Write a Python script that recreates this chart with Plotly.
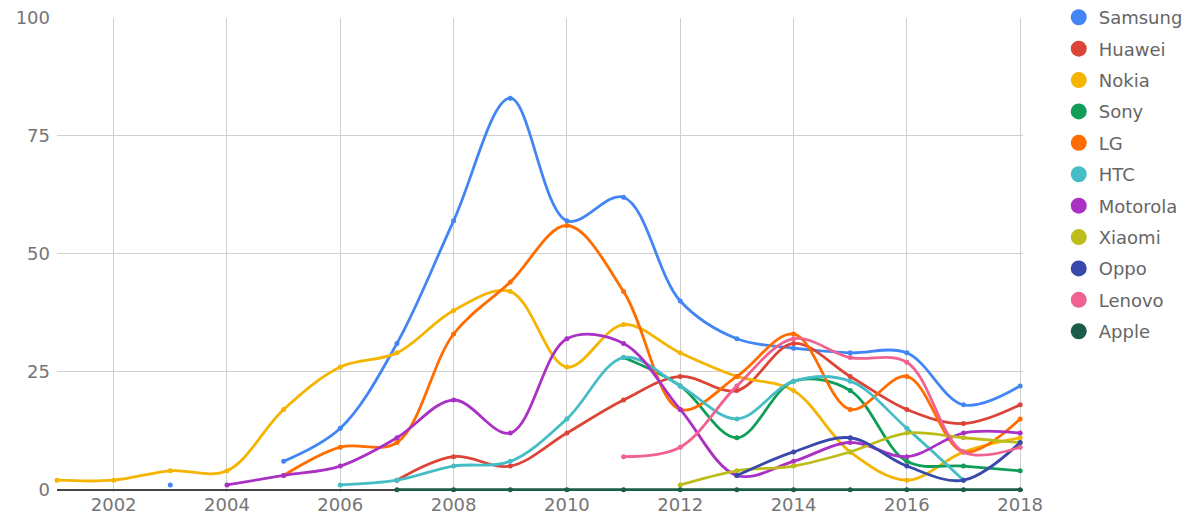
import plotly.graph_objects as go

years = list(range(2001, 2019))

samsung = [None, None, 1, None, 6, 13, 31, 57, 83, 57, 62, 40, 32, 30, 29, 29, 18, 22]
huawei = [None] * 6 + [2, 7, 5, 12, 19, 24, 21, 31, 24, 17, 14, 18]
nokia = [2, 2, 4, 4, 17, 26, 29, 38, 42, 26, 35, 29, 24, 21, 8, 2, 8, 11]
sony = [None] * 10 + [28, 22, 11, 23, 21, 6, 5, 4]
lg = [None] * 4 + [3, 9, 10, 33, 44, 56, 42, 17, 24, 33, 17, 24, 8, 15]
htc = [None] * 5 + [1, 2, 5, 6, 15, 28, 22, 15, 23, 23, 13, 2, None]
motorola = [None] * 3 + [1, 3, 5, 11, 19, 12, 32, 31, 17, 3, 6, 10, 7, 12, 12]
xiaomi = [None] * 11 + [1, 4, 5, 8, 12, 11, 10]
oppo = [None] * 12 + [3, 8, 11, 5, 2, 10]
lenovo = [None] * 10 + [7, 9, 22, 32, 28, 27, 8, 9]
apple = [None] * 6 + [0] * 12

series = [
    ("Samsung", samsung, "#4285F4"),
    ("Huawei", huawei, "#DB4437"),
    ("Nokia", nokia, "#F4B400"),
    ("Sony", sony, "#0F9D58"),
    ("LG", lg, "#FF6D00"),
    ("HTC", htc, "#46BDC6"),
    ("Motorola", motorola, "#AB30C4"),
    ("Xiaomi", xiaomi, "#BDBD1A"),
    ("Oppo", oppo, "#3949AB"),
    ("Lenovo", lenovo, "#F06292"),
    ("Apple", apple, "#1C5C4A"),
]

x_ticks = list(range(2002, 2019, 2))
y_ticks = [0, 25, 50, 75, 100]

fig = go.Figure()
for name, vals, color in series:
    fig.add_trace(go.Scatter(
        x=years, y=vals, name=name, mode="lines+markers",
        line=dict(color=color, width=2.8, shape="spline", smoothing=1),
        marker=dict(color=color, size=5),
        connectgaps=False, showlegend=False, cliponaxis=False,
    ))
for name, vals, color in series:
    fig.add_trace(go.Scatter(
        x=[None], y=[None], name=name, mode="markers",
        marker=dict(color=color, size=16, symbol="circle"),
        legendgroup=name, showlegend=True,
    ))

font_family = "DejaVu Sans"
fig.update_layout(
    width=1204, height=520,
    margin=dict(l=57, r=181, t=18, b=28, autoexpand=False),
    plot_bgcolor="white", paper_bgcolor="white",
    font=dict(family=font_family, size=18, color="#757575"),
    legend=dict(
        x=1.037, xanchor="left", y=1.04, yanchor="top",
        font=dict(family=font_family, size=18, color="#666666"),
        tracegroupgap=5, itemsizing="trace", maxheight=1.0,
        bgcolor="rgba(0,0,0,0)",
    ),
    xaxis=dict(
        range=[2001, 2018.05], tickvals=x_ticks, ticktext=[str(v) for v in x_ticks],
        showgrid=True, gridcolor="#cfcfcf", gridwidth=1, zeroline=False,
        showline=False, ticks="", tickfont=dict(size=18, color="#757575"),
    ),
    yaxis=dict(
        range=[-0.5, 100], tickvals=y_ticks, ticktext=[str(v) for v in y_ticks],
        showgrid=True, gridcolor="#cfcfcf", gridwidth=1,
        zeroline=True, zerolinecolor="#444444", zerolinewidth=1.5,
        showline=False, ticks="", tickfont=dict(size=18, color="#757575"),
        ticklabelstandoff=6,
    ),
)

fig.write_html("out.html")
